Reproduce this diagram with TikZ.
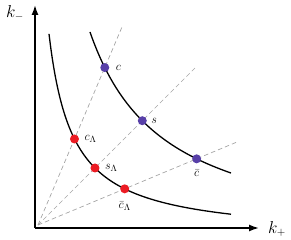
\documentclass[tikz,border=0pt]{standalone}
\usetikzlibrary{arrows.meta,intersections}
\definecolor{dotblue}{RGB}{88,64,168}
\definecolor{dotred}{RGB}{236,28,36}
\definecolor{dashgray}{RGB}{165,165,165}
\begin{document}
\begin{tikzpicture}[x=1pt,y=-1pt,
  axis/.style={line width=1.6pt,-{Latex[length=10pt,width=7pt]}},
  curve/.style={line width=1.3pt,black},
  ray/.style={dashgray,line width=0.7pt,dash pattern=on 4.5pt off 3pt},
  bdot/.style={circle,fill=dotblue,inner sep=0pt,minimum size=9pt},
  rdot/.style={circle,fill=dotred,inner sep=0pt,minimum size=9pt},
  lab/.style={inner sep=1pt,font=\fontsize{13}{15}\selectfont},
  axlab/.style={inner sep=1pt,font=\fontsize{16}{18}\selectfont}]
\useasboundingbox (0,0) rectangle (291,240);
% coordinates
\coordinate (A) at (35,228);
\coordinate (Ytop) at (35,5);
\coordinate (Xend) at (259,228);
\coordinate (O) at (38,225);
\coordinate (E1) at (122,27);
\coordinate (E2) at (195,68);
\coordinate (E3) at (237,142);
% rays
\draw[ray,name path=r1] (O) -- (E1);
\draw[ray,name path=r2] (O) -- (E2);
\draw[ray,name path=r3] (O) -- (E3);
% curves
\draw[curve,name path=outer] plot[domain=55:196,samples=80,smooth]
  ({35+\x},{248-100*162/(\x+20)});
\draw[curve,name path=inner] plot[domain=14:196,samples=100,smooth]
  ({35+\x},{238-4900/(\x+10)});
% axes
\draw[axis] (A) -- (Ytop);
\draw[axis] (A) -- (Xend);
\node[axlab] (km) at (15,13) {$k_-$};
\node[axlab] (kp) at (277,229) {$k_+$};
% intersections
\path[name intersections={of=r1 and outer,by=pc}];
\path[name intersections={of=r2 and outer,by=ps}];
\path[name intersections={of=r3 and outer,by=pcb}];
\path[name intersections={of=r1 and inner,by=pcL}];
\path[name intersections={of=r2 and inner,by=psL}];
\path[name intersections={of=r3 and inner,by=pcbL}];
% dots
\node[bdot] (c) at (pc) {};
\node[bdot] (s) at (ps) {};
\node[bdot] (cb) at (pcb) {};
\node[rdot] (cL) at (pcL) {};
\node[rdot] (sL) at (psL) {};
\node[rdot] (cbL) at (pcbL) {};
% labels
\node[lab,right=10pt] (lc) at (c) {$c$};
\node[lab,right=8pt] (ls) at (s) {$s$};
\node[lab,below=10pt] (lcb) at (cb) {$\bar c$};
\node[lab,right=9pt] (lcL) at (cL) {$c_\Lambda$};
\node[lab,right=9pt] (lsL) at (sL) {$s_\Lambda$};
\node[lab,below=12pt] (lcbL) at (cbL) {$\bar c_\Lambda$};
\end{tikzpicture}
\end{document}
